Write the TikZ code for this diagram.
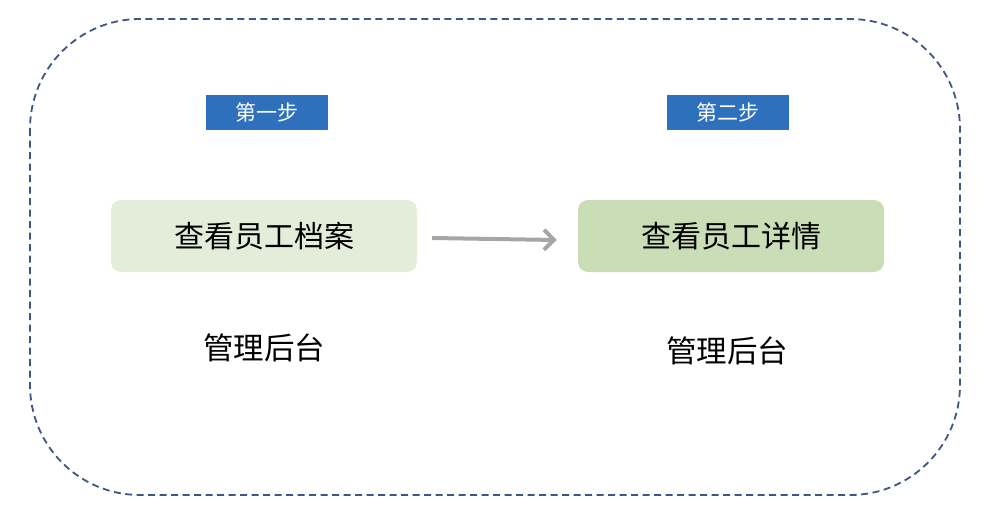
\documentclass[tikz,border=0pt]{standalone}
\usepackage{fontspec}
\setmainfont{Noto Sans CJK SC}
\usetikzlibrary{arrows.meta}
\definecolor{dashblue}{HTML}{3F5586}
\definecolor{tagblue}{HTML}{2E70BC}
\definecolor{greenA}{HTML}{E4EDD9}
\definecolor{greenB}{HTML}{C9DDB6}
\definecolor{arrowgray}{HTML}{A6A6A6}
\tikzset{
  tag/.style={fill=tagblue, text=white, minimum width=122pt, minimum height=35pt, inner sep=0pt, font=\fontsize{21}{21}\selectfont},
  stepbox/.style={rounded corners=10pt, minimum width=306pt, minimum height=72pt, inner sep=0pt, font=\fontsize{30}{30}\selectfont},
  sys/.style={inner sep=0pt, font=\fontsize{30.5}{30.5}\selectfont},
}
\begin{document}
\begin{tikzpicture}[x=1pt,y=-1pt]
\useasboundingbox (0,0) rectangle (986,514);
\draw[dashblue, line width=1.8pt, dash pattern=on 7pt off 4.5pt, rounded corners=110pt] (30,19) rectangle (960,495);
\node[tag] (t1) at (267,112.5) {第一步};
\node[tag] (t2) at (727.5,112.5) {第二步};
\node[stepbox, fill=greenA] (b1) at (264,236) {查看员工档案};
\node[stepbox, fill=greenB] (b2) at (731,236) {查看员工详情};
\node[sys] (s1) at (264,348) {管理后台};
\node[sys] (s2) at (727,351) {管理后台};
\draw[arrowgray, line width=4pt, -{Straight Barb[length=10pt,width=20pt,line width=4pt]}] ([xshift=15pt,yshift=-2pt]b1.east) -- ([xshift=-21pt,yshift=-4pt]b2.west);
\end{tikzpicture}
\end{document}
